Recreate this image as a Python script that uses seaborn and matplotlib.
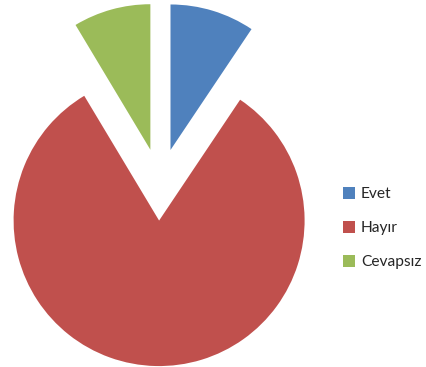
import matplotlib
matplotlib.use("Agg")
import matplotlib.pyplot as plt
import seaborn as sns

# Survey answers (percent of respondents)
labels = ["Evet", "Hayır", "Cevapsız"]
shares = [9.4, 82.0, 8.6]
colors = ["#4F81BD", "#C0504D", "#9BBB59"]

sns.set_theme(style="white")
plt.rcParams["font.family"] = ["Lato", "DejaVu Sans"]

W, H = 426, 367
fig = plt.figure(figsize=(W / 100, H / 100), dpi=100)
ax = fig.add_axes([0, 0, 1, 1])

# Pie centre and radius in pixels
cx, cy, r = 160.0, 367 - 184.5, 145.5

wedges, _ = ax.pie(
    shares,
    colors=colors,
    startangle=90,
    counterclock=False,
    explode=[0.248, 0.248, 0.248],
    radius=1.0,
    wedgeprops=dict(linewidth=0),
)
ax.set_aspect("equal")
ax.set_xlim(-cx / r, (W - cx) / r)
ax.set_ylim(-cy / r, (H - cy) / r)
ax.axis("off")

leg = fig.legend(
    wedges,
    labels,
    loc="upper left",
    bbox_to_anchor=(337 / W, 1 - 181 / H),
    frameon=False,
    fontsize=11.2,
    handlelength=0.75,
    handleheight=0.75,
    handletextpad=0.4,
    labelspacing=1.28,
    borderaxespad=0,
)

fig.savefig("out.png", dpi=100, facecolor="white")
